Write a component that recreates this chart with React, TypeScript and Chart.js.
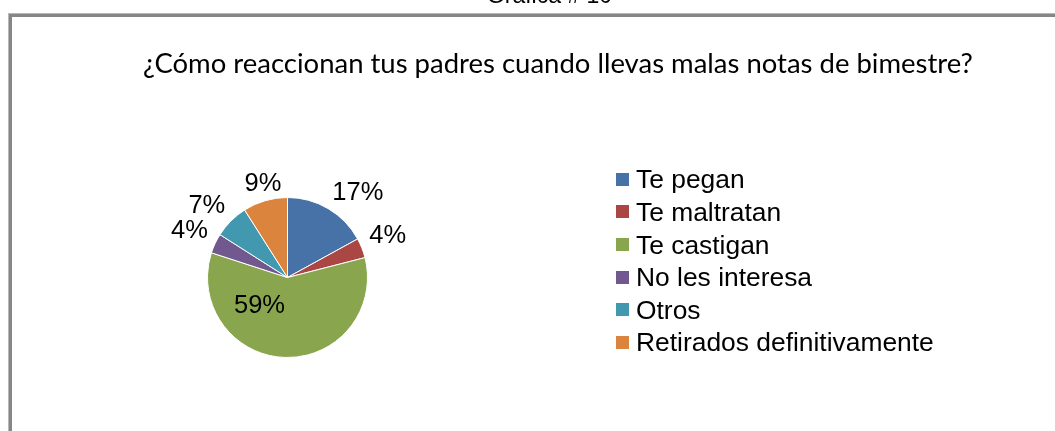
import React, { useEffect, useRef } from 'react';
import { Chart, registerables } from 'chart.js';

Chart.register(...registerables);

const categories = ['Te pegan', 'Te maltratan', 'Te castigan', 'No les interesa', 'Otros', 'Retirados definitivamente'];
const percentages = [17, 4, 59, 4, 7, 9];
const sliceColors = ['#4672A8', '#AA4644', '#89A54E', '#71588F', '#4198AF', '#DB843D'];
const chartTitle = '¿Cómo reaccionan tus padres cuando llevas malas notas de bimestre?';
const headerText = 'Gráfica # 10';

const ARIAL = '"Liberation Sans", Arial, sans-serif';

const decor = {
  id: 'decor',
  beforeDraw(chart: any) {
    const ctx = chart.ctx as CanvasRenderingContext2D;
    const W = chart.width;
    const H = chart.height;
    ctx.save();
    ctx.fillStyle = '#ffffff';
    ctx.fillRect(0, 0, W, H);
    // frame
    ctx.fillStyle = '#b8b8b8';
    ctx.fillRect(8, 13, W - 8, 1);
    ctx.fillRect(8, 13, 1, H - 13);
    ctx.fillStyle = '#868686';
    ctx.fillRect(9, 14, W - 9, 3);
    ctx.fillRect(9, 14, 3, H - 14);
    // clipped header above the frame
    ctx.fillStyle = '#000000';
    ctx.font = `23px ${ARIAL}`;
    ctx.textAlign = 'center';
    ctx.textBaseline = 'alphabetic';
    ctx.fillText(headerText, 549.5, 2.5);
    // title (Calibri-like)
    ctx.font = '100px Lato, "Open Sans", sans-serif';
    const tw = ctx.measureText(chartTitle).width;
    const size = (100 * 830) / tw;
    ctx.font = `${size}px Lato, "Open Sans", sans-serif`;
    ctx.fillStyle = '#000000';
    ctx.fillText(chartTitle, 558, 72.5);
    ctx.restore();
  },
  afterDatasetsDraw(chart: any) {
    const ctx = chart.ctx as CanvasRenderingContext2D;
    const meta = chart.getDatasetMeta(0);
    const total = percentages.reduce((a, b) => a + b, 0);
    ctx.save();
    ctx.font = `25.5px ${ARIAL}`;
    ctx.textAlign = 'center';
    ctx.textBaseline = 'alphabetic';
    ctx.fillStyle = '#000000';
    meta.data.forEach((el: any, i: number) => {
      const { x, y, startAngle, endAngle, outerRadius } = el.getProps(
        ['x', 'y', 'startAngle', 'endAngle', 'outerRadius'],
        true
      );
      const mid = (startAngle + endAngle) / 2;
      const frac = percentages[i] / total;
      const text = `${Math.round(frac * 100)}%`;
      const w = ctx.measureText(text).width;
      let cx: number;
      let cy: number;
      if (frac > 0.3) {
        const a = mid + Math.PI / 4;
        const d = outerRadius * 0.48;
        cx = x + Math.cos(a) * d;
        cy = y + Math.sin(a) * d;
      } else {
        const d = outerRadius + 8;
        const c = Math.cos(mid);
        const s = Math.sin(mid);
        const px = x + c * d;
        const py = y + s * d;
        cx = px + (Math.abs(c) > 0.3 ? Math.sign(c) * (w / 2) : 0);
        cy = py + Math.sign(s) * 11;
      }
      ctx.fillText(text, cx, cy + 8.8);
    });
    ctx.restore();
  },
  afterDraw(chart: any) {
    const ctx = chart.ctx as CanvasRenderingContext2D;
    const colors = chart.data.datasets[0].backgroundColor as string[];
    ctx.save();
    ctx.font = `26.4px ${ARIAL}`;
    ctx.textAlign = 'left';
    ctx.textBaseline = 'alphabetic';
    const rowGap = 32.6;
    const firstMid = 179.3;
    chart.data.labels.forEach((lab: string, i: number) => {
      const midY = firstMid + i * rowGap;
      ctx.fillStyle = colors[i];
      ctx.fillRect(616, Math.round(midY - 6.5), 13, 13);
      ctx.fillStyle = '#000000';
      ctx.fillText(lab, 636, midY + 9);
    });
    ctx.restore();
  },
};

export default function App() {
  const ref = useRef<HTMLCanvasElement>(null);
  useEffect(() => {
    const chart = new Chart(ref.current as HTMLCanvasElement, {
      type: 'pie',
      data: {
        labels: categories,
        datasets: [
          {
            data: percentages,
            backgroundColor: sliceColors,
            borderColor: '#ffffff',
            borderWidth: 1,
            hoverOffset: 0,
          },
        ],
      },
      options: {
        responsive: false,
        animation: false,
        events: [],
        layout: { padding: { left: 0, right: 480, top: 197, bottom: 73 } },
        plugins: {
          legend: { display: false },
          title: { display: false },
          tooltip: { enabled: false },
        },
      },
      plugins: [decor],
    } as any);
    return () => chart.destroy();
  }, []);
  return (
    <div style={{ position: 'fixed', left: 0, top: 0, width: 1055, height: 431, background: '#fff' }}>
      <canvas ref={ref} width={1055} height={431} style={{ display: 'block' }} />
    </div>
  );
}
